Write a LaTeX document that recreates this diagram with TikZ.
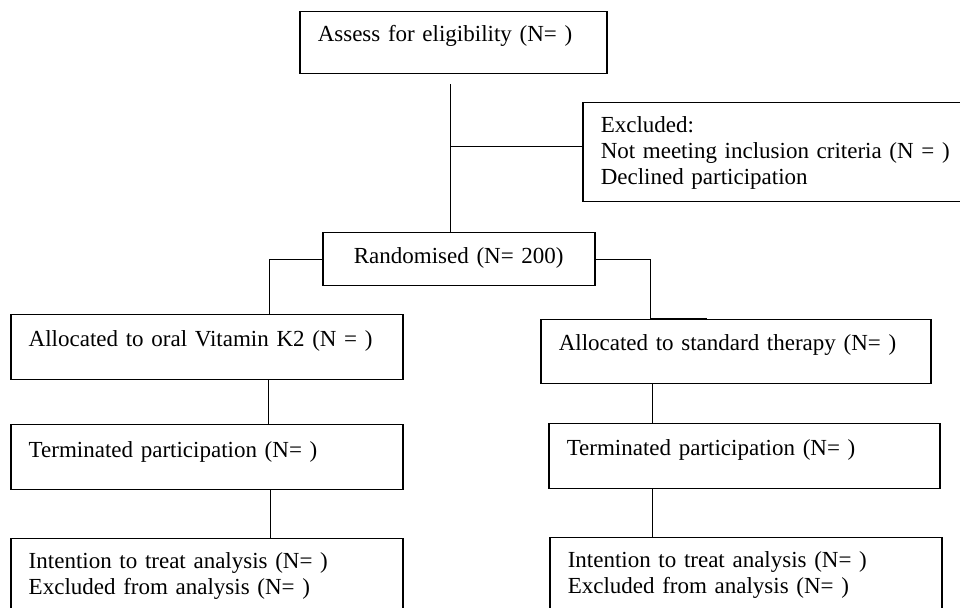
\documentclass[tikz,border=0pt]{standalone}
\usepackage{fontspec}
\setmainfont{Liberation Serif}
\usetikzlibrary{positioning}

\begin{document}
\begin{tikzpicture}[
    x=0.5pt, y=-0.5pt,
    every node/.style={font=\fontsize{11.5pt}{13pt}\selectfont},
    box/.style={draw, line width=0.75pt, anchor=north west, align=left, inner xsep=9pt, inner ysep=0pt, text height=15pt},
    link/.style={line width=0.5pt}
]
\useasboundingbox (0,0) rectangle (960,608);
\clip (0,0) rectangle (960,608);

\node[box, text width=135.5pt, text depth=16pt] (assess) at (299,11) {Assess for eligibility (N= )};
\node[box, text width=186pt, text depth=34.5pt] (excl) at (582,102) {Excluded:\\Not meeting inclusion criteria (N = )\\Declined participation};
\node[box, align=center, text width=118pt, text height=15.5pt, text depth=11pt] (rand) at (322,232) {Randomised (N= 200)};

\node[box, text width=178pt, text height=16pt, text depth=16.5pt] (allocK) at (10,314) {Allocated to oral Vitamin K2 (N = )};
\node[box, text width=177pt, text height=15.5pt, text depth=16.5pt] (allocS) at (540,319) {Allocated to standard therapy (N= )};
\node[box, text width=178pt, text height=16.5pt, text depth=16pt] (termK) at (10,424) {Terminated participation (N= )};
\node[box, text width=177.5pt, text height=16pt, text depth=16.5pt] (termS) at (548,423) {Terminated participation (N= )};
\node[box, text width=178pt, text depth=30pt] (ittK) at (10,538) {Intention to treat analysis (N= )\\Excluded from analysis (N= )};
\node[box, text width=178pt, text depth=30pt] (ittS) at (549,537) {Intention to treat analysis (N= )\\Excluded from analysis (N= )};

% screening
\coordinate (fork) at (450,147);
\draw[link] (fork |- assess.south) ++(0,10) -- (fork |- rand.north);
\draw[link] (fork) -- (fork -| excl.west);

% arms
\draw[link] (rand.west) -| ([xshift=31.5pt]allocK.north);
\draw[link] (rand.east) -| ([xshift=-42.5pt]allocS.north) -- ++(56,0);
\draw[link] ([xshift=31pt]allocK.south) coordinate (k1) -- (k1 |- termK.north);
\draw[link] ([xshift=32pt]termK.south) coordinate (k2) -- (k2 |- ittK.north);
\draw[link] ([xshift=-41.5pt]allocS.south) coordinate (s1) -- (s1 |- termS.north);
\draw[link] ([xshift=-45.75pt]termS.south) coordinate (s2) -- (s2 |- ittS.north);
\end{tikzpicture}
\end{document}
